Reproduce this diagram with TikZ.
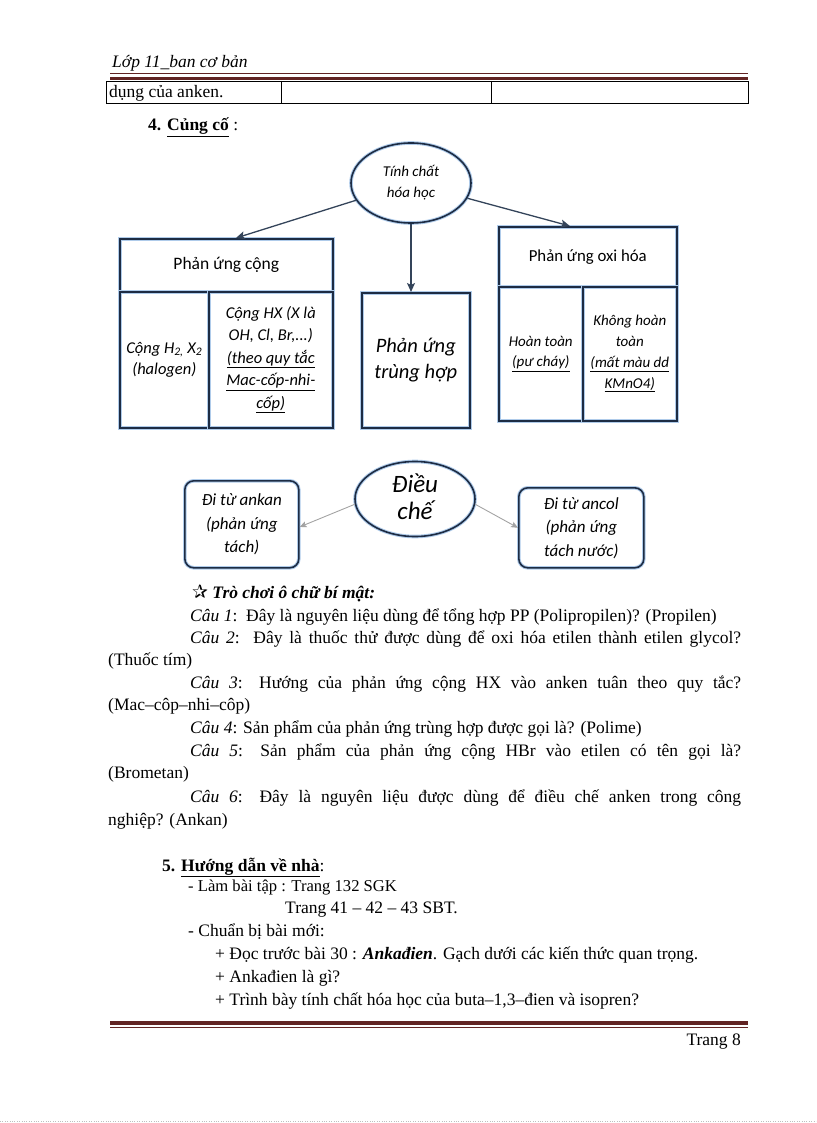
\documentclass[tikz,border=0pt]{standalone}
\usepackage{fontspec}
\setmainfont{Liberation Serif}
\newfontfamily\calibri{Carlito}
\newfontfamily\dejavu{DejaVu Sans}
\usepackage{tikz}
\usetikzlibrary{shapes.geometric, arrows, arrows.meta, positioning, calc}
\definecolor{boxline}{HTML}{1D2C44}
\definecolor{glow}{HTML}{AFCBEA}
\definecolor{rulered}{HTML}{622423}
\definecolor{arrdark}{HTML}{34445A}
\definecolor{arrgray}{HTML}{A3A3A3}
\newcommand{\body}{\fontsize{17.5}{22}\selectfont}
\newcommand{\Cau}[1]{\textit{Câu #1}}
\tikzstyle{txt} = [anchor=base west, inner sep=0pt, font=\body]
\tikzstyle{cell} = [rectangle, anchor=north west, draw=boxline, line width=1.6pt, preaction={draw=glow, line width=3.6pt}, inner sep=2pt, align=center, text centered]
\tikzstyle{bubble} = [ellipse, draw=boxline, line width=1.6pt, preaction={draw=glow, line width=3.6pt}, inner sep=1pt, align=center]
\tikzstyle{roundbox} = [rectangle, rounded corners=9pt, anchor=north west, draw=boxline, line width=1.6pt, preaction={draw=glow, line width=3.6pt}, align=center, font=\calibri\itshape\fontsize{17}{23.5}\selectfont]
\tikzstyle{arrow} = [line width=1.3pt, draw=arrdark, -{Stealth[length=9pt, width=8pt, inset=2pt]}]
\tikzstyle{thinarrow} = [line width=0.9pt, draw=arrgray, -{Stealth[length=7pt, width=6pt, inset=1.5pt]}]

\begin{document}
\begin{tikzpicture}[x=1pt, y=-1pt]
    \useasboundingbox (0,0) rectangle (816,1123);
    % header
    \node (lop) [txt, font=\body\itshape] at (112,68) {Lớp 11\_ban cơ bản};
    \draw [rulered, line width=1pt] (110,74) -- (748,74);
    \draw [rulered, line width=3.5pt] (110,78.5) -- (748,78.5);
    \draw [line width=0.8pt] (106,81) rectangle (748,103);
    \draw [line width=0.8pt] (281,81) -- (281,103);
    \draw [line width=0.8pt] (491,81) -- (491,103);
    \node (dung) [txt] at (109,98) {dụng của anken.};
    \node (cungco) [txt] at (148,131) {\textbf{4. \underline{Củng cố}} :};

    % tinh chat hoa hoc
    \node (tc) [bubble, minimum width=120, minimum height=80, font=\calibri\itshape\fontsize{15}{21}\selectfont] at (411,183) {Tính chất\\hóa học};
    \node (congHead) [cell, minimum width=213, minimum height=53, font=\calibri\fontsize{17.5}{21}\selectfont] at (119,238) {Phản ứng cộng};
    \node (congA) [cell, minimum width=89, minimum height=136, font=\calibri\itshape\fontsize{16.5}{21.5}\selectfont] at (119,291) {Cộng H\textsubscript{2,} X\textsubscript{2}\\(halogen)};
    \node (congB) [cell, minimum width=124, minimum height=136, font=\calibri\itshape\fontsize{16.5}{22.5}\selectfont] at (208,291) {Cộng HX (X là\\OH, Cl, Br,...)\\\underline{(theo quy tắc}\\\underline{Mac-cốp-nhi-}\\\underline{cốp)}};
    \node (trunghop) [cell, minimum width=108, minimum height=135, font=\calibri\itshape\fontsize{20.5}{26}\selectfont] at (361,292) {Phản ứng\\trùng hợp};
    \node (oxiHead) [cell, minimum width=178, minimum height=60, font=\calibri\fontsize{16.8}{21}\selectfont] at (498,226) {Phản ứng oxi hóa};
    \node (oxiA) [cell, minimum width=84, minimum height=134, font=\calibri\itshape\fontsize{15}{20.5}\selectfont] at (498,286) {Hoàn toàn\\\underline{(pư cháy)}};
    \node (oxiB) [cell, minimum width=94, minimum height=134, font=\calibri\itshape\fontsize{15}{20.7}\selectfont] at (582,286) {Không hoàn\\toàn\\\underline{(mất màu dd}\\\underline{KMnO4)}};

    \draw [arrow] (tc) -- ($(congHead.north west)!0.545!(congHead.north east)$);
    \draw [arrow] (tc.south) -- (tc.south |- trunghop.north);
    \draw [arrow] (tc) -- ($(oxiHead.north west)!0.4!(oxiHead.north east)$);

    % dieu che
    \node (dc) [bubble, minimum width=120, minimum height=75, font=\calibri\itshape\fontsize{25}{27}\selectfont] at (415,499) {\raisebox{4pt}{Điều}\\\raisebox{4pt}{chế}};
    \node (ankan) [roundbox, minimum width=114, minimum height=87] at (184,480) {Đi từ ankan\\(phản ứng\\tách)};
    \node (ancol) [roundbox, minimum width=125, minimum height=80] at (518,487) {Đi từ ancol\\(phản ứng\\tách nước)};
    \draw [thinarrow] (dc.185) -- ($(ankan.north east)!0.53!(ankan.south east)$);
    \draw [thinarrow] (dc.355) -- ($(ancol.north west)!0.5!(ancol.south west)$);

    % tro choi o chu
    \node (star) [txt] at (192,598) {{\dejavu\bfseries\fontsize{19}{22}\selectfont ✰} \textbf{\textit{Trò chơi ô chữ bí mật:}}};
    \node (q1) [txt] at (190,621) {\Cau{1}:\ \ Đây là nguyên liệu dùng để tổng hợp PP (Polipropilen)? (Propilen)};
    \node (q2) [txt] at (190,643) {\makebox[551pt][s]{\Cau{2}:\ \ Đây là thuốc thử được dùng để oxi hóa etilen thành etilen glycol?}};
    \node (a2) [txt] at (108,665) {(Thuốc tím)};
    \node (q3) [txt] at (190,688) {\makebox[551pt][s]{\Cau{3}: Hướng của phản ứng cộng HX vào anken tuân theo quy tắc?}};
    \node (a3) [txt] at (108,710) {(Mac–côp–nhi–côp)};
    \node (q4) [txt] at (190,733) {\Cau{4}: Sản phẩm của phản ứng trùng hợp được gọi là? (Polime)};
    \node (q5) [txt] at (190,756) {\makebox[551pt][s]{\Cau{5}: Sản phẩm của phản ứng cộng HBr vào etilen có tên gọi là?}};
    \node (a5) [txt] at (108,778) {(Brometan)};
    \node (q6) [txt] at (190,802) {\makebox[551pt][s]{\Cau{6}: Đây là nguyên liệu được dùng để điều chế anken trong công}};
    \node (a6) [txt] at (108,825) {nghiệp? (Ankan)};

    % huong dan ve nha
    \node (hd) [txt] at (162,871) {\textbf{5. \underline{Hướng dẫn về nhà}}:};
    \node (bt) [txt, font=\fontsize{16.6}{20}\selectfont] at (188,891) {- Làm bài tập : Trang 132 SGK};
    \node (sbt) [txt] at (285,913) {Trang 41 – 42 – 43 SBT.};
    \node (cb) [txt] at (188,936) {- Chuẩn bị bài mới:};
    \node (doc) [txt] at (215,959) {+ Đọc trước bài 30 : \textbf{\textit{Ankađien}}. Gạch dưới các kiến thức quan trọng.};
    \node (lagi) [txt] at (215,982) {+ Ankađien là gì?};
    \node (trinhbay) [txt] at (215,1005) {+ Trình bày tính chất hóa học của buta–1,3–đien và isopren?};

    % footer
    \draw [rulered, line width=3.5pt] (110,1023) -- (748,1023);
    \draw [rulered, line width=1pt] (110,1027.5) -- (748,1027.5);
    \node (trang) [txt, anchor=base east] at (741,1045) {Trang 8};
    \draw [gray!50, dotted] (0,1121.5) -- (816,1121.5);
\end{tikzpicture}
\end{document}
